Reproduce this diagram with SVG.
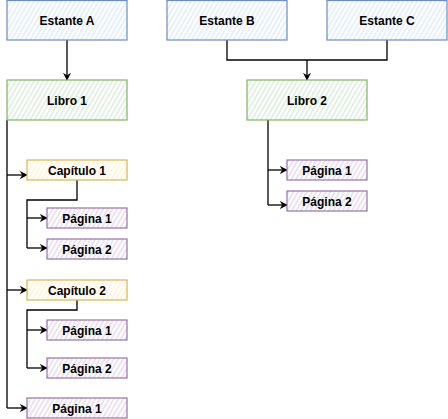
<svg xmlns="http://www.w3.org/2000/svg" width="448" height="419" viewBox="0 0 448 419">
<defs>
<pattern id="hb" width="4" height="4" patternUnits="userSpaceOnUse" patternTransform="rotate(-60)"><rect width="4" height="4" fill="#ffffff"/><line x1="0" y1="2" x2="4" y2="2" stroke="#dae8fc" stroke-width="1.3"/></pattern>
<pattern id="hg" width="4" height="4" patternUnits="userSpaceOnUse" patternTransform="rotate(-60)"><rect width="4" height="4" fill="#ffffff"/><line x1="0" y1="2" x2="4" y2="2" stroke="#d5e8d4" stroke-width="1.3"/></pattern>
<pattern id="hy" width="4" height="4" patternUnits="userSpaceOnUse" patternTransform="rotate(-60)"><rect width="4" height="4" fill="#ffffff"/><line x1="0" y1="2" x2="4" y2="2" stroke="#fff2cc" stroke-width="1.3"/></pattern>
<pattern id="hp" width="4" height="4" patternUnits="userSpaceOnUse" patternTransform="rotate(-60)"><rect width="4" height="4" fill="#ffffff"/><line x1="0" y1="2" x2="4" y2="2" stroke="#e1d5e7" stroke-width="1.3"/></pattern>
<marker id="arr" viewBox="0 0 10 10" refX="9" refY="5" markerWidth="8" markerHeight="8" markerUnits="userSpaceOnUse" orient="auto"><path d="M0,0 L10,5 L0,10 L3,5 Z" fill="#000"/></marker>
</defs>
<style>
.b{fill:url(#hb);stroke:#6c8ebf;stroke-width:1.2}
.g{fill:url(#hg);stroke:#82b366;stroke-width:1.2}
.y{fill:url(#hy);stroke:#d6b656;stroke-width:1.2}
.p{fill:url(#hp);stroke:#9673a6;stroke-width:1.2}
text{font-family:"Liberation Sans",Arial,sans-serif;font-weight:bold;font-size:12px;fill:#000;text-anchor:middle;dominant-baseline:central}
.c{fill:none;stroke:#000;stroke-width:1.3}
.a{fill:none;stroke:#000;stroke-width:1.3;marker-end:url(#arr)}
</style>
<g id="connectors">
<path class="a" d="M67,40 L67,80"/>
<path class="c" d="M227,40 L227,60 L307,60"/>
<path class="c" d="M387,40 L387,60 L307,60"/>
<path class="a" d="M307,60 L307,80"/>
<path class="c" d="M7,120 L7,408"/>
<path class="a" d="M7,175 L27,175"/>
<path class="a" d="M7,290 L27,290"/>
<path class="a" d="M7,408 L27,408"/>
<path class="c" d="M77,180 L77,200 L27,200 L27,248"/>
<path class="a" d="M27,218 L47,218"/>
<path class="a" d="M27,248 L47,248"/>
<path class="c" d="M77,300 L77,310 L27,310 L27,368"/>
<path class="a" d="M27,330 L47,330"/>
<path class="a" d="M27,368 L47,368"/>
<path class="c" d="M268,120 L268,205"/>
<path class="a" d="M268,170 L287,170"/>
<path class="a" d="M268,205 L287,205"/>
</g>
<g id="estanteA"><rect class="b" x="7" y="0.5" width="120" height="39.5"/><text x="67" y="21">Estante A</text></g>
<g id="estanteB"><rect class="b" x="167" y="0.5" width="120" height="39.5"/><text x="227" y="21">Estante B</text></g>
<g id="estanteC"><rect class="b" x="327" y="0.5" width="120" height="39.5"/><text x="387" y="21">Estante C</text></g>
<g id="libro1"><rect class="g" x="7" y="80" width="120" height="40"/><text x="67" y="101">Libro 1</text></g>
<g id="libro2"><rect class="g" x="247" y="80" width="120" height="40"/><text x="307" y="101">Libro 2</text></g>
<g id="capitulo1"><rect class="y" x="27" y="160" width="100" height="20"/><text x="77" y="171">Capítulo 1</text></g>
<g id="c1p1"><rect class="p" x="47" y="208" width="80" height="20"/><text x="87" y="219">Página 1</text></g>
<g id="c1p2"><rect class="p" x="47" y="239" width="80" height="20"/><text x="87" y="250">Página 2</text></g>
<g id="capitulo2"><rect class="y" x="27" y="280" width="100" height="20"/><text x="77" y="291">Capítulo 2</text></g>
<g id="c2p1"><rect class="p" x="47" y="320" width="80" height="20"/><text x="87" y="331">Página 1</text></g>
<g id="c2p2"><rect class="p" x="47" y="358" width="80" height="20"/><text x="87" y="369">Página 2</text></g>
<g id="l1p1"><rect class="p" x="27" y="398" width="100" height="20"/><text x="77" y="409">Página 1</text></g>
<g id="l2p1"><rect class="p" x="287" y="160" width="80" height="20"/><text x="327" y="171">Página 1</text></g>
<g id="l2p2"><rect class="p" x="287" y="191" width="80" height="20"/><text x="327" y="202">Página 2</text></g>
</svg>
